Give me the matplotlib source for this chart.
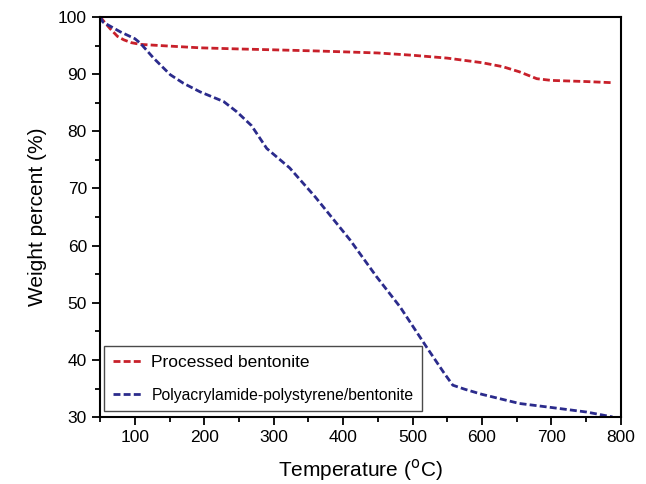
import matplotlib
matplotlib.use("Agg")
import matplotlib.pyplot as plt
from matplotlib.ticker import MultipleLocator

plt.rcParams['font.family'] = ['Liberation Sans', 'DejaVu Sans']

# values
temp_bent = [50, 64, 75, 84, 95, 108, 150, 194, 250, 300, 362, 400, 450, 500, 550, 600, 630, 654, 679, 700, 750, 788]
wt_bent = [100, 98.0, 96.6, 96.0, 95.5, 95.2, 94.9, 94.6, 94.4, 94.25, 94.05, 93.9, 93.7, 93.3, 92.8, 92.0, 91.3, 90.4, 89.2, 88.9, 88.7, 88.5]

temp_comp = [50, 54, 79, 100, 108, 127, 151, 170, 194, 228, 247, 268, 290, 323, 360, 410, 448, 482, 520, 545, 558, 575, 600, 654, 700, 751, 788]
wt_comp = [100, 99.1, 97.4, 96.2, 95.4, 92.8, 89.9, 88.4, 86.9, 85.2, 83.4, 81.0, 77.0, 73.6, 68.5, 61.0, 54.6, 49.3, 42.3, 37.8, 35.6, 34.9, 34.0, 32.4, 31.7, 30.9, 30.05]

fig = plt.figure(figsize=(6.46, 4.84), dpi=100)
ax = fig.add_axes([0.155, 0.138, 0.806, 0.827])

ax.plot(temp_bent, wt_bent, linestyle=(0, (2.5, 1.15)), color='#c8202a', linewidth=2.0,
        label='Processed bentonite')
ax.plot(temp_comp, wt_comp, linestyle=(0, (2.5, 1.15)), color='#2b2b8c', linewidth=2.0,
        label='Polyacrylamide-polystyrene/bentonite')

ax.set_xlim(50, 800)
ax.set_ylim(30, 100)
ax.xaxis.set_major_locator(MultipleLocator(100))
ax.xaxis.set_minor_locator(MultipleLocator(50))
ax.yaxis.set_major_locator(MultipleLocator(10))
ax.yaxis.set_minor_locator(MultipleLocator(5))
ax.tick_params(which='major', direction='out', length=6, width=1.3, labelsize=12.5)
ax.tick_params(which='minor', direction='out', length=3.5, width=1.3)
for s in ax.spines.values():
    s.set_linewidth(1.5)

ax.set_xlabel('Temperature ($^{\\mathrm{o}}$C)', fontsize=15, labelpad=8)
ax.set_ylabel('Weight percent (%)', fontsize=15, labelpad=8)

leg = ax.legend(loc='lower left', fontsize=11.3, frameon=True, fancybox=False,
                framealpha=1, edgecolor='#4a4a4a', borderpad=0.55, labelspacing=1.15,
                handlelength=1.9, handletextpad=0.55, borderaxespad=0,
                bbox_to_anchor=(0.008, 0.015))
leg.get_frame().set_linewidth(1.0)
leg.get_texts()[0].set_fontsize(12.5)

fig.savefig('out.png', dpi=100)
